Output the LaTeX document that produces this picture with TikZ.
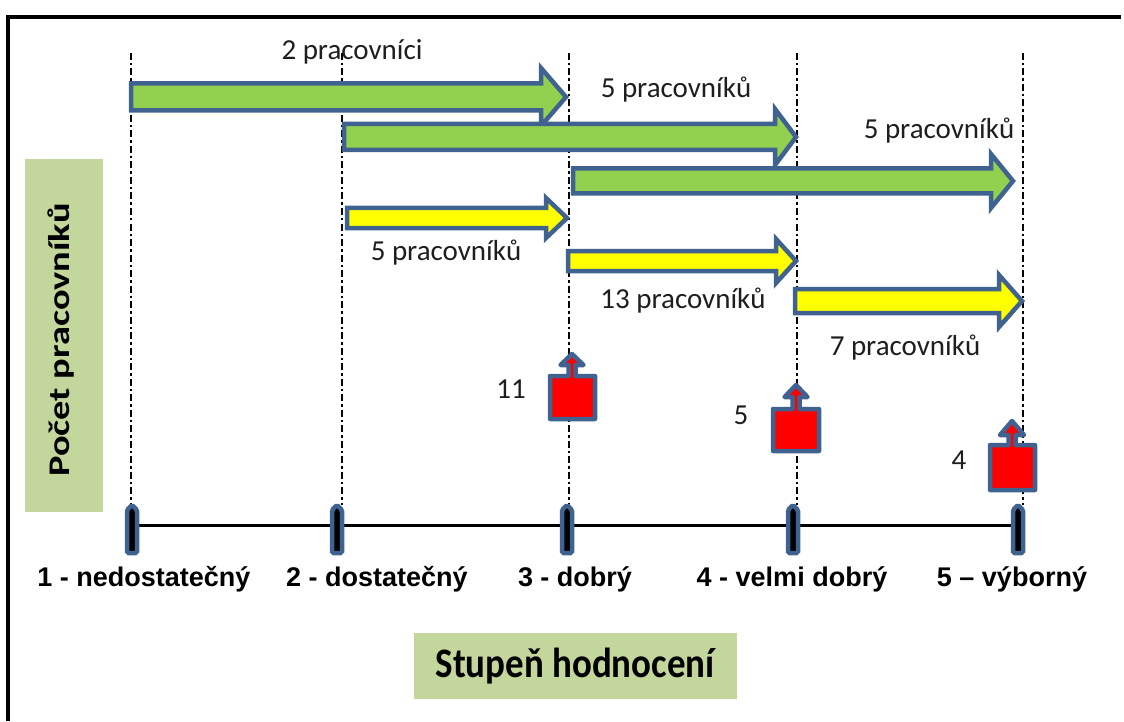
\documentclass[tikz,border=0pt]{standalone}
\usepackage{fontspec}
\setmainfont{Carlito}
\newfontfamily\axisfont{Liberation Sans}
\definecolor{olblue}{HTML}{3F6290}
\definecolor{grfill}{HTML}{92D050}
\definecolor{yefill}{HTML}{FFFF00}
\definecolor{boxgreen}{HTML}{C3D69B}
\definecolor{redfill}{HTML}{FF0000}
\definecolor{txtgray}{HTML}{1E1E1E}
\tikzset{
  dashline/.style={line width=2.5pt, black, dash pattern=on 7pt off 3pt on 2.5pt off 3pt},
  greenarr/.style={line width=4.5pt, draw=olblue, fill=grfill, line join=miter},
  yellowarr/.style={line width=4.5pt, draw=olblue, fill=yefill, line join=miter},
  redarrow/.style={line width=4.5pt, draw=olblue, fill=redfill, line join=round},
  tickmark/.style={line width=4.5pt, draw=olblue, fill=black, rounded corners=1.5pt},
  cnt/.style={font=\fontsize{29}{34}\selectfont, text=txtgray, inner sep=0pt},
  axlab/.style={font=\axisfont\bfseries\fontsize{27}{32}\selectfont, inner sep=0pt},
  labbox/.style={fill=boxgreen, draw=none},
}
\newcommand\blockarr[7]{%
  \draw[#1] (#2,#5-#6) -- (#3,#5-#6) -- (#3,#5-#7) -- (#4,#5) -- (#3,#5+#7) -- (#3,#5+#6) -- (#2,#5+#6) -- cycle;}
\newcommand\redarr[8]{%
  \draw[redarrow] (#1,#4) -- (#1,#3) -- (#5-3.5,#3) -- (#5-3.5,#6) -- (#5-#8,#6) -- (#5,#7) -- (#5+#8,#6) -- (#5+3.5,#6) -- (#5+3.5,#3) -- (#2,#3) -- (#2,#4) -- cycle;}
\newcommand\tickat[1]{%
  \draw[tickmark] (#1-5,553) -- (#1-5,510) -- (#1,505) -- (#1+5,510) -- (#1+5,553) -- cycle;}
\begin{document}
\begin{tikzpicture}[x=1pt, y=-1pt]
\useasboundingbox (0,0) rectangle (1124,722);
% frame
\draw[line width=3.5pt] (8,721) -- (8,17) -- (1121,17);
% label boxes
\fill[labbox] (25,159) rectangle (103,512);
\node[rotate=90, font=\bfseries\fontsize{30}{36}\selectfont, inner sep=0pt] (ylab) at (61,340) {\scalebox{1.28}[1]{Počet pracovníků}};
\fill[labbox] (414,633) rectangle (737,699);
\node[font=\bfseries\fontsize{42}{50}\selectfont, inner sep=0pt] (xlab) at (575,666) {\scalebox{0.88}[1]{Stupeň hodnocení}};
% dashed verticals
\foreach \x/\n in {131/d1,342/d2,569/d3,797/d4,1023/d5} {
  \coordinate (\n t) at (\x,53);
  \coordinate (\n b) at (\x,505);
  \draw[dashline] (\n t) -- (\n b);
}
% axis
\coordinate (axl) at (131,525);
\coordinate (axr) at (1018,525);
\draw[line width=3pt] (axl) -- (axr);
\tickat{132}
\tickat{337}
\tickat{567}
\tickat{793}
\tickat{1018}
% axis labels
\node[axlab] (l1) at (144,579) {1 - nedostatečný};
\node[axlab] (l2) at (377,579) {2 - dostatečný};
\node[axlab] (l3) at (575,579) {3 - dobrý};
\node[axlab] (l4) at (792,579) {4 - velmi dobrý};
\node[axlab] (l5) at (1012,579) {5 – výborný};
% green arrows
\blockarr{greenarr}{131}{541}{566}{97}{13.5}{29}
\blockarr{greenarr}{344}{775}{796}{137}{13}{28}
\blockarr{greenarr}{573}{991}{1013}{181}{12.5}{27}
% yellow arrows
\blockarr{yellowarr}{347}{546}{567}{218}{10}{20}
\blockarr{yellowarr}{568}{776}{796}{261}{10}{22}
\blockarr{yellowarr}{795}{999}{1022}{301}{12}{26}
% arrow labels
\node[cnt] (g1) at (352,52) {2 pracovníci};
\node[cnt] (g2) at (676,90) {5 pracovníků};
\node[cnt] (g3) at (939,131) {5 pracovníků};
\node[cnt] (y1) at (446,253) {5 pracovníků};
\node[cnt] (y2) at (683,301) {13 pracovníků};
\node[cnt] (y3) at (905,348) {7 pracovníků};
% red arrows
\redarr{550}{595}{376}{419}{572}{365}{354}{11.5}
\redarr{773}{819}{409}{451}{796}{397}{385}{11.5}
\redarr{990}{1035}{445}{490}{1012}{435}{421}{12}
\node[cnt] (r1) at (511,389) {11};
\node[cnt] (r2) at (741,415) {5};
\node[cnt] (r3) at (959,460) {4};
\end{tikzpicture}
\end{document}
